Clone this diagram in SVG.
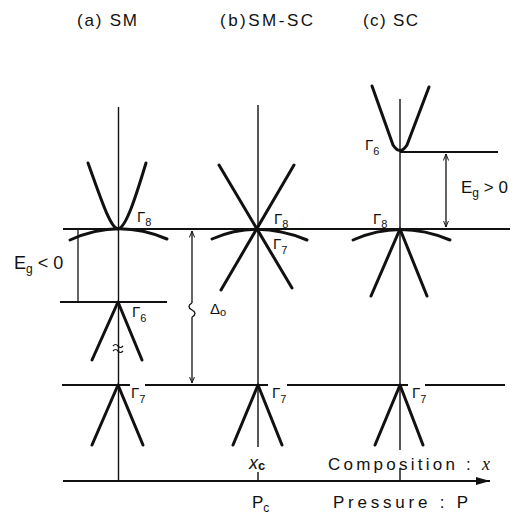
<svg xmlns="http://www.w3.org/2000/svg" width="517" height="515" viewBox="0 0 517 515">
<defs>
<style>
text{font-family:"Liberation Sans","DejaVu Sans",Arial,sans-serif;fill:#111}
.ttl{font-size:17px}
.g{font-size:15px}
.sub{font-size:11px}
.lbl{font-size:17px}
.band{fill:none;stroke:#111;stroke-width:3;stroke-linecap:round;stroke-linejoin:round}
.ax{fill:none;stroke:#111;stroke-width:1.4}
.hl{fill:none;stroke:#111;stroke-width:1.8}
.dim{fill:none;stroke:#111;stroke-width:1.3}
</style>
<marker id="ah" viewBox="0 0 10 10" refX="10" refY="5" markerWidth="5" markerHeight="5" orient="auto-start-reverse">
<path d="M0,1 L10,5 L0,9" fill="none" stroke="#111" stroke-width="1.5"/>
</marker>
<marker id="axh" viewBox="0 0 14 8" refX="14" refY="4" markerWidth="14" markerHeight="8" markerUnits="userSpaceOnUse" orient="auto">
<path d="M0,0 L14,4 L0,8 Z" fill="#111"/>
</marker>
</defs>
<rect width="517" height="515" fill="#fff"/>

<g id="titles">
<text class="ttl" x="77" y="26" textLength="60" lengthAdjust="spacing">(a) SM</text>
<text class="ttl" x="220" y="26" textLength="93" lengthAdjust="spacing">(b)SM-SC</text>
<text class="ttl" x="363" y="26" textLength="55" lengthAdjust="spacing">(c) SC</text>
</g>

<g id="levels">
<path class="hl" d="M63,229 H510"/>
<path class="hl" d="M60,302 H167"/>
<path class="hl" d="M400,152 H498"/>
<path class="hl" d="M62,385 H130 M145,385 H268 M287,385 H408 M425,385 H505"/>
</g>

<g id="panel-a">
<path class="ax" d="M118.5,107 V481" stroke-width="1.8"/>
<path class="band" d="M88,163 C100,196 110,228 118,229 C126,228 136,196 146,163"/>
<path class="band" d="M70,240 Q118,218 167,239"/>
<path class="band" d="M92,360 L118,302 L142,360"/>
<path class="band" d="M92,445 L118,385 L143,445"/>
<path d="M113,346 q2.5,-3 5,0 t5,0 M113,351 q2.5,-3 5,0 t5,0" fill="none" stroke="#111" stroke-width="1.2"/>
<text class="g" x="137" y="222">Γ<tspan class="sub" dy="4">8</tspan></text>
<text class="g" x="132" y="317">Γ<tspan class="sub" dy="5">6</tspan></text>
<text class="g" x="131" y="398">Γ<tspan class="sub" dy="5">7</tspan></text>
</g>

<g id="panel-b">
<path class="ax" d="M258,105 V447 M258,472 V482" stroke-width="1.2"/>
<path class="band" d="M219,165 L292,288 M294,165 L221,290"/>
<path class="band" d="M212,239 Q257,219 307,240"/>
<path class="band" d="M233,445 L258,385 L282,445"/>
<text class="g" x="274" y="224">Γ<tspan class="sub" dy="4">8</tspan></text>
<text class="g" x="273" y="249">Γ<tspan class="sub" dy="5">7</tspan></text>
<text class="g" x="272" y="398">Γ<tspan class="sub" dy="5">7</tspan></text>
</g>

<g id="panel-c">
<path class="ax" d="M400,99 V152" stroke-width="1.2"/>
<path class="ax" d="M400,152 V229" stroke-width="2"/>
<path class="ax" d="M400,229 V450 M400,468 V482" stroke-width="1.2"/>
<path class="band" d="M372,86 L393,145 Q400,156 407,145 L429,87"/>
<path class="band" d="M353,240 Q400,219 450,240"/>
<path class="band" d="M371,296 L400,229 L427,296"/>
<path class="band" d="M375,445 L400,385 L423,445"/>
<text class="g" x="365" y="150">Γ<tspan class="sub" dy="5">6</tspan></text>
<text class="g" x="373" y="224">Γ<tspan class="sub" dy="4">8</tspan></text>
<text class="g" x="412" y="398">Γ<tspan class="sub" dy="5">7</tspan></text>
</g>

<g id="connectors">
<path class="dim" d="M78,229 V302"/>
<path class="dim" d="M192,303 V231" marker-end="url(#ah)"/>
<path class="dim" d="M192,303 c-4,2 -4,5 0,7 c4,2 4,5 0,7"/>
<path class="dim" d="M192,317 V383" marker-end="url(#ah)"/>
<path class="dim" d="M446,154 V227" marker-start="url(#ah)" marker-end="url(#ah)"/>
<path class="hl" d="M63,481 H490" marker-end="url(#axh)"/>
</g>

<g id="labels">
<text x="14" y="269" font-size="18">E<tspan font-size="12" dy="4">g</tspan><tspan dy="-4"> &lt; 0</tspan></text>
<text x="461" y="193" font-size="17">E<tspan font-size="12" dy="4">g</tspan><tspan dy="-4"> &gt; 0</tspan></text>
<text x="210" y="314" font-size="15">Δ<tspan font-size="11" dy="2">o</tspan></text>
<text x="249" y="469" font-size="18" font-style="italic" font-family="Liberation Serif, serif">x<tspan font-family="Liberation Sans, sans-serif" font-style="normal" font-weight="bold" font-size="13" dy="1">c</tspan></text>
<text class="lbl" x="328" y="470" textLength="162" lengthAdjust="spacing">Composition : <tspan font-family="Liberation Serif, serif" font-style="italic" font-size="18">x</tspan></text>
<text class="lbl" x="252" y="508">P<tspan font-size="12" dy="4">c</tspan></text>
<text class="lbl" x="333" y="508" textLength="135" lengthAdjust="spacing">Pressure : P</text>
</g>
</svg>
